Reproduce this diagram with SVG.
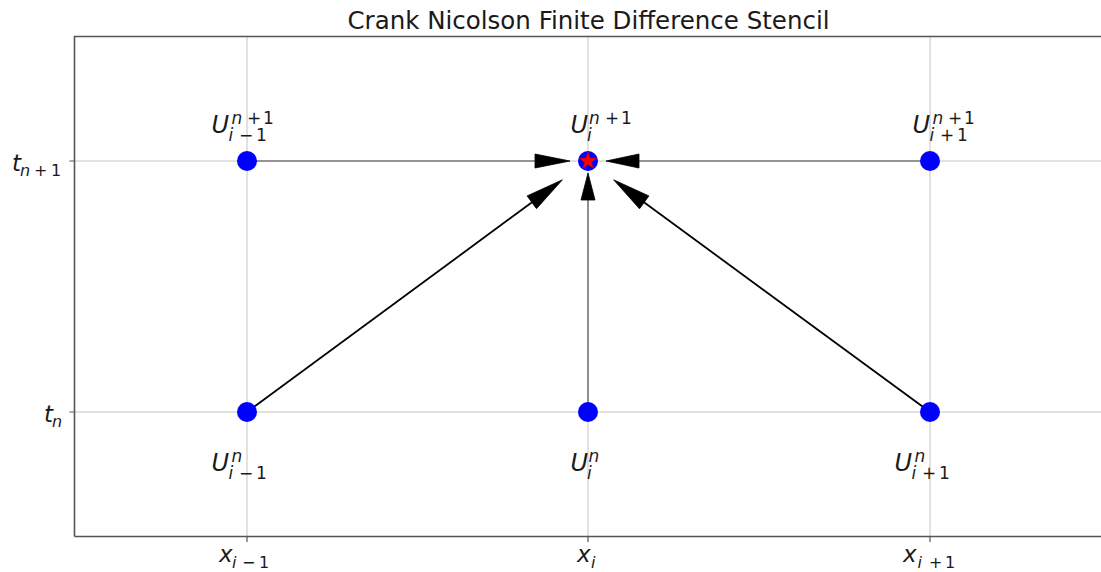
<svg xmlns="http://www.w3.org/2000/svg" width="1101" height="572" viewBox="0 0 1101 572">
<style>
.grid{stroke:#c4c4c4;stroke-width:1;fill:none}
.spine{stroke:#555;stroke-width:1.6;fill:none}
.tick{stroke:#555;stroke-width:1.2}
.shaftg{stroke:#7a7a7a;stroke-width:1.6;fill:none}
.shaftk{stroke:#000;stroke-width:1.8;fill:none}
.head{fill:#000;stroke:#000;stroke-width:0.8;stroke-linejoin:miter}
.pt{fill:#0000ff}
.star{fill:#ff0000;stroke:#d00000;stroke-width:0.6}
text{fill:#1a1a1a}
.it{font-family:"DejaVu Sans",sans-serif;font-style:italic}
.rm{font-family:"DejaVu Sans",sans-serif;font-style:normal}
.big{font-size:24px}
.sm{font-size:17px}
.tk{font-size:23px}
.tks{font-size:16px}
.title{font-family:"DejaVu Sans",sans-serif;font-size:24.5px;text-anchor:middle}
</style>
<rect x="0" y="0" width="1101" height="572" fill="#fff"/>
<text class="title" x="588.5" y="28.5">Crank Nicolson Finite Difference Stencil</text>
<g id="axes">
<path class="grid" d="M247 37V536M588 37V536M930 37V536M75 161H1101M75 412H1101"/>
<path class="spine" d="M74.5 536.5V36.5H1101M74.5 536.5H1101"/>
<path class="tick" d="M69.5 161H74M69.5 412H74M247 537V542M588 537V542M930 537V542"/>
<text><tspan class="it tk" x="219" y="562">x</tspan><tspan class="it tks" x="232" y="568">i</tspan><tspan class="rm tks" x="242" y="568">−</tspan><tspan class="rm tks" x="259" y="568">1</tspan></text>
<text><tspan class="it tk" x="577" y="562">x</tspan><tspan class="it tks" x="591" y="568">i</tspan></text>
<text><tspan class="it tk" x="903" y="562">x</tspan><tspan class="it tks" x="917.5" y="568">i</tspan><tspan class="rm tks" x="929" y="568">+</tspan><tspan class="rm tks" x="945" y="568">1</tspan></text>
<text><tspan class="it tk" x="12" y="171">t</tspan><tspan class="it tks" x="20" y="176">n</tspan><tspan class="rm tks" x="34" y="176">+</tspan><tspan class="rm tks" x="51" y="176">1</tspan></text>
<text><tspan class="it tk" x="44" y="422">t</tspan><tspan class="it tks" x="52" y="427">n</tspan></text>
</g>
<g id="connectors">
<line class="shaftg" x1="247" y1="161" x2="540" y2="161"/>
<polygon class="head" points="570,161 535,154 535,168"/>
<line class="shaftg" x1="930" y1="161" x2="634" y2="161"/>
<polygon class="head" points="606,161 639,154 639,168"/>
<line class="shaftg" x1="588" y1="412" x2="588" y2="195"/>
<polygon class="head" points="588,173 581,200 595,200"/>
<line class="shaftk" x1="247" y1="412" x2="532" y2="202.3"/>
<polygon class="head" points="562.4,179.8 536.5,208.7 527.1,195.9"/>
<line class="shaftk" x1="930" y1="412" x2="644" y2="202.3"/>
<polygon class="head" points="613.6,179.8 648.9,195.9 639.5,208.8"/>
</g>
<g id="U_im1_np1">
<circle class="pt" cx="247" cy="161" r="10"/>
<text><tspan class="it big" x="211.5" y="133">U</tspan><tspan class="it sm" x="231.5" y="124">n</tspan><tspan class="rm sm" x="247" y="124">+</tspan><tspan class="rm sm" x="263" y="124">1</tspan><tspan class="it sm" x="228.5" y="141">i</tspan><tspan class="rm sm" x="239" y="141">−</tspan><tspan class="rm sm" x="256" y="141">1</tspan></text>
</g>
<g id="U_i_np1">
<circle class="pt" cx="588" cy="161" r="10"/>
<polygon class="star" points="588,152 590.1,158.1 596.6,158.2 591.4,162.2 593.3,168.3 588,164.6 582.7,168.3 584.6,162.2 579.4,158.2 585.9,158.1"/>
<text><tspan class="it big" x="570.5" y="133">U</tspan><tspan class="it sm" x="589" y="124">n</tspan><tspan class="rm sm" x="605" y="124">+</tspan><tspan class="rm sm" x="621" y="124">1</tspan><tspan class="it sm" x="587" y="141">i</tspan></text>
</g>
<g id="U_ip1_np1">
<circle class="pt" cx="930" cy="161" r="10"/>
<text><tspan class="it big" x="912.5" y="133">U</tspan><tspan class="it sm" x="932.5" y="124">n</tspan><tspan class="rm sm" x="948" y="124">+</tspan><tspan class="rm sm" x="964" y="124">1</tspan><tspan class="it sm" x="929.5" y="141">i</tspan><tspan class="rm sm" x="940" y="141">+</tspan><tspan class="rm sm" x="957" y="141">1</tspan></text>
</g>
<g id="U_im1_n">
<circle class="pt" cx="247" cy="412" r="10"/>
<text><tspan class="it big" x="211.5" y="471">U</tspan><tspan class="it sm" x="231.5" y="462">n</tspan><tspan class="it sm" x="228.5" y="479">i</tspan><tspan class="rm sm" x="239" y="479">−</tspan><tspan class="rm sm" x="256" y="479">1</tspan></text>
</g>
<g id="U_i_n">
<circle class="pt" cx="588" cy="412" r="10"/>
<text><tspan class="it big" x="570.5" y="471">U</tspan><tspan class="it sm" x="588.5" y="462">n</tspan><tspan class="it sm" x="587" y="479">i</tspan></text>
</g>
<g id="U_ip1_n">
<circle class="pt" cx="930" cy="412" r="10"/>
<text><tspan class="it big" x="894.5" y="471">U</tspan><tspan class="it sm" x="914.5" y="462">n</tspan><tspan class="it sm" x="911.5" y="479">i</tspan><tspan class="rm sm" x="922" y="479">+</tspan><tspan class="rm sm" x="939" y="479">1</tspan></text>
</g>
</svg>
